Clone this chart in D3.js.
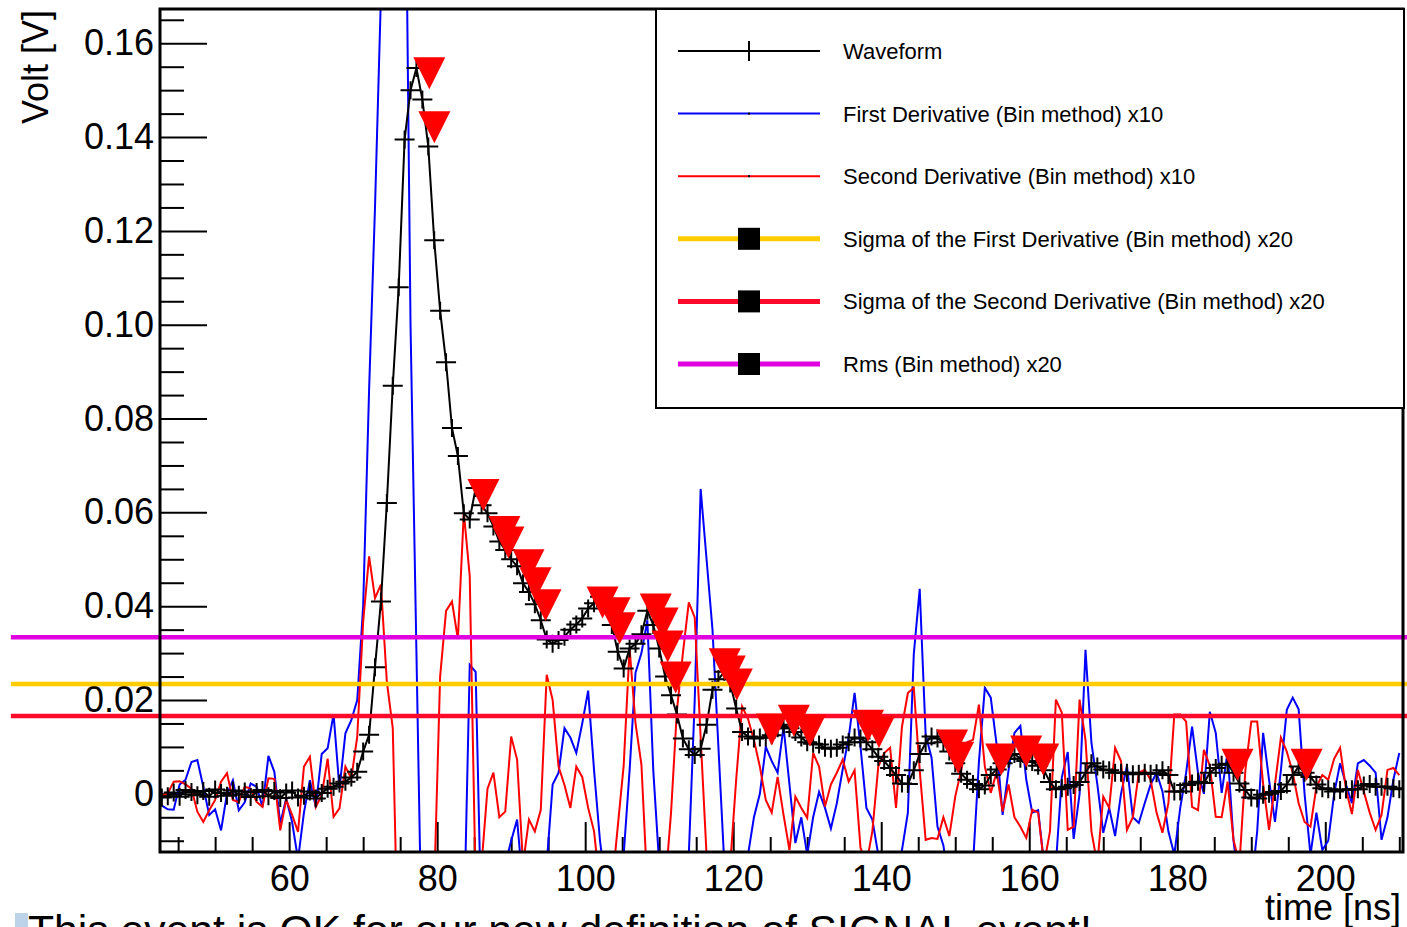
<!DOCTYPE html>
<html>
<head>
<meta charset="utf-8">
<script src="https://cdn.jsdelivr.net/npm/d3@7"></script>
<style>
  body { margin: 0; background: #fff; }
  svg { display: block; }
  text { font-family: "Liberation Sans", Arial, Helvetica, sans-serif; fill: #000; }
</style>
</head>
<body>
<svg id="chart" width="1407" height="927"></svg>
<script>
// sampling of the digitizer: bin centres every 0.8 ns
const T0 = 42.8;
const DT = 0.8;

// waveform [V]
const waveform = [
  -0.0008, -0.0005, 0.0003, -0.0006, 0.0008, 0.0004, -0.0003, 0.0006, -0.0006, 0.0009,
  0.0002, -0.0004, 0.0007, -0.0002, 0.0005, -0.0007, 0.0004, 0.0008, -0.0005, 0.0006,
  -0.0009, 0.0003, 0.0007, -0.0008, -0.0004, 0.0005, -0.0010, 0.0002, 0.0011, 0.0015,
  0.0022, 0.0026, 0.0035, 0.0047, 0.0090, 0.0126, 0.0270, 0.0410, 0.0620, 0.0870,
  0.1080, 0.1395, 0.1500, 0.1547, 0.1480, 0.1380, 0.1180, 0.1030, 0.0920, 0.0780,
  0.0720, 0.0598, 0.0585, 0.0652, 0.0615, 0.0598, 0.0570, 0.0538, 0.0520, 0.0500,
  0.0485, 0.0449, 0.0430, 0.0404, 0.0370, 0.0329, 0.0320, 0.0328, 0.0335, 0.0350,
  0.0361, 0.0374, 0.0395, 0.0406, 0.0420, 0.0400, 0.0360, 0.0303, 0.0267, 0.0310,
  0.0320, 0.0340, 0.0390, 0.0360, 0.0310, 0.0250, 0.0210, 0.0169, 0.0118, 0.0095,
  0.0083, 0.0096, 0.0147, 0.0222, 0.0244, 0.0260, 0.0235, 0.0182, 0.0132, 0.0122,
  0.0118, 0.0120, 0.0120, 0.0125, 0.0140, 0.0147, 0.0140, 0.0132, 0.0120, 0.0110,
  0.0107, 0.0105, 0.0098, 0.0096, 0.0098, 0.0105, 0.0110, 0.0120, 0.0118, 0.0110,
  0.0095, 0.0079, 0.0070, 0.0055, 0.0040, 0.0022, 0.0021, 0.0050, 0.0085, 0.0108,
  0.0122, 0.0118, 0.0110, 0.0090, 0.0065, 0.0043, 0.0030, 0.0021, 0.0010, 0.0018,
  0.0040, 0.0052, 0.0065, 0.0075, 0.0085, 0.0075, 0.0070, 0.0068, 0.0060, 0.0050,
  0.0025, 0.0010, 0.0012, 0.0015, 0.0019, 0.0025, 0.0045, 0.0065, 0.0058, 0.0052,
  0.0050, 0.0045, 0.0045, 0.0045, 0.0042, 0.0043, 0.0045, 0.0043, 0.0044, 0.0050,
  0.0040, 0.0005, 0.0005, 0.0019, 0.0022, 0.0026, 0.0023, 0.0045, 0.0055, 0.0062,
  0.0064, 0.0045, 0.0022, 0.0008, -0.0008, -0.0010, -0.0002, 0.0000, 0.0004, 0.0006,
  0.0020, 0.0040, 0.0058, 0.0045, 0.0036, 0.0020, 0.0012, 0.0010, 0.0005, 0.0008,
  0.0009, 0.0010, 0.0010, 0.0018, 0.0021, 0.0015, 0.0015, 0.0015, 0.0012, 0.0010
];

// first derivative x10
const firstDeriv = [
  -0.0025, -0.0033, -0.0034, 0.0020, 0.0030, 0.0068, 0.0072, 0.0015, -0.0045, -0.0033,
  -0.0078, 0.0000, 0.0029, -0.0035, -0.0018, 0.0022, 0.0015, -0.0028, 0.0081, 0.0047,
  -0.0063, -0.0010, -0.0060, -0.0140, -0.0040, 0.0029, -0.0028, 0.0085, 0.0097, 0.0170,
  0.0011, 0.0129, 0.0157, 0.0200, 0.0400, 0.0860, 0.1250, 0.1700, 0.2200, 0.2600,
  0.3000, 0.2200, 0.1000, 0.0300, -0.0400, -0.1000, -0.1000, -0.1000, -0.0800, -0.0600,
  -0.0400, -0.0300, 0.0275, 0.0260, -0.0300, -0.0200, -0.0150, -0.0200, -0.0150, -0.0100,
  -0.0055, -0.0200, -0.0300, -0.0250, -0.0200, -0.0150, 0.0020, 0.0045, 0.0140, 0.0120,
  0.0087, 0.0150, 0.0220, 0.0050, -0.0100, -0.0200, -0.0300, -0.0250, -0.0130, 0.0050,
  0.0258, 0.0300, 0.0370, 0.0050, -0.0150, -0.0300, -0.0300, -0.0250, -0.0200, -0.0130,
  0.0200, 0.0650, 0.0500, 0.0350, 0.0100, -0.0150, -0.0200, -0.0200, -0.0150, -0.0130,
  -0.0050, 0.0000, 0.0100, 0.0070, 0.0045, 0.0143, 0.0020, -0.0105, -0.0050, -0.0130,
  -0.0050, 0.0004, -0.0030, -0.0074, -0.0020, 0.0053, 0.0120, 0.0215, 0.0100, -0.0030,
  -0.0055, -0.0130, -0.0200, -0.0200, -0.0150, -0.0120, -0.0040, 0.0298, 0.0437, 0.0126,
  0.0077, -0.0070, -0.0110, -0.0200, -0.0300, -0.0300, -0.0250, -0.0150, 0.0068, 0.0226,
  0.0205, 0.0104, -0.0045, 0.0050, 0.0130, 0.0145, 0.0030, -0.0040, -0.0035, -0.0150,
  -0.0200, -0.0150, 0.0035, 0.0089, -0.0096, 0.0000, 0.0307, 0.0109, 0.0020, -0.0083,
  -0.0030, -0.0090, 0.0000, 0.0060, -0.0050, -0.0062, -0.0020, 0.0020, 0.0045, 0.0005,
  -0.0080, -0.0130, -0.0030, 0.0045, 0.0143, 0.0045, 0.0000, 0.0175, 0.0130, 0.0002,
  0.0089, -0.0100, -0.0200, -0.0300, -0.0200, -0.0080, 0.0130, 0.0030, -0.0060, 0.0050,
  0.0179, 0.0205, 0.0180, 0.0000, -0.0130, -0.0040, -0.0120, -0.0100, 0.0000, 0.0065,
  0.0020, -0.0020, 0.0065, 0.0072, 0.0060, 0.0045, -0.0098, -0.0050, 0.0030, 0.0087
];

// second derivative x10
const secondDeriv = [
  -0.0004, 0.0001, 0.0026, 0.0027, 0.0020, 0.0011, -0.0038, -0.0060, -0.0035, -0.0013,
  0.0026, 0.0044, -0.0013, -0.0018, 0.0015, 0.0011, -0.0017, -0.0028, 0.0033, 0.0032,
  -0.0078, -0.0013, -0.0045, -0.0081, 0.0058, 0.0079, -0.0028, -0.0003, 0.0075, -0.0049,
  -0.0031, 0.0058, 0.0033, 0.0122, 0.0367, 0.0506, 0.0417, 0.0446, 0.0239, 0.0140,
  -0.0400, -0.0800, -0.1000, -0.1000, -0.0800, -0.0500, -0.0200, 0.0250, 0.0390, 0.0410,
  0.0330, 0.0600, 0.0464, -0.0200, -0.0150, 0.0011, 0.0045, -0.0050, -0.0038, 0.0122,
  0.0073, -0.0150, -0.0055, -0.0080, -0.0034, 0.0254, 0.0200, 0.0058, 0.0019, -0.0030,
  0.0058, 0.0036, -0.0030, -0.0080, -0.0200, -0.0300, -0.0200, -0.0070, 0.0060, 0.0310,
  0.0150, 0.0062, -0.0200, -0.0300, -0.0300, -0.0200, -0.0040, 0.0179, 0.0300, 0.0408,
  0.0376, 0.0120, -0.0130, -0.0300, -0.0300, -0.0250, -0.0150, 0.0030, 0.0186, 0.0160,
  0.0115, 0.0058, -0.0013, -0.0040, 0.0036, -0.0045, -0.0120, -0.0006, -0.0030, -0.0051,
  0.0087, 0.0058, -0.0027, 0.0020, 0.0045, 0.0073, 0.0026, 0.0050, -0.0115, -0.0150,
  -0.0080, 0.0058, 0.0087, 0.0098, -0.0030, 0.0143, 0.0215, 0.0226, 0.0050, -0.0098,
  -0.0094, -0.0096, -0.0050, -0.0090, -0.0006, 0.0050, 0.0110, 0.0115, 0.0190, 0.0058,
  0.0002, 0.0047, -0.0038, 0.0020, -0.0050, -0.0070, -0.0094, -0.0034, -0.0040, -0.0150,
  -0.0080, 0.0201, 0.0173, -0.0077, -0.0070, 0.0201, 0.0115, -0.0080, -0.0150, -0.0006,
  -0.0030, 0.0098, 0.0070, -0.0077, -0.0050, 0.0045, 0.0051, 0.0030, -0.0040, -0.0083,
  -0.0020, 0.0169, 0.0169, 0.0154, -0.0028, -0.0035, 0.0094, 0.0060, -0.0049, -0.0050,
  0.0026, -0.0098, -0.0150, 0.0050, 0.0154, 0.0154, 0.0021, -0.0077, 0.0020, 0.0120,
  0.0090, 0.0045, -0.0020, -0.0060, -0.0070, 0.0015, 0.0040, 0.0030, 0.0075, 0.0098,
  0.0010, -0.0043, 0.0051, 0.0005, -0.0040, -0.0077, -0.0045, 0.0051, 0.0055, 0.0040
];

// selected points (red triangles)
const peakTimes = [78.94, 79.62, 86.25, 89.09, 89.63, 92.34, 93.29, 94.64, 102.35, 103.98,
  104.65, 109.53, 110.47, 111.15, 112.23, 118.86, 119.54, 120.49, 125.22, 128.2,
  130.37, 138.21, 139.70, 149.58, 150.39, 156.21, 159.59, 161.89, 188.14, 197.48];
const peakVolts = [0.1536, 0.1421, 0.0637, 0.0558, 0.0536, 0.0487, 0.0449, 0.0402, 0.0408, 0.0385,
  0.0353, 0.0393, 0.0363, 0.0314, 0.0248, 0.0276, 0.0261, 0.0233, 0.0137, 0.0156,
  0.0135, 0.0145, 0.0132, 0.0103, 0.0077, 0.0073, 0.0090, 0.0073, 0.0062, 0.0062];

// threshold lines
const thresholdNames = ["sigma1", "sigma2", "rms"];
const thresholdValues = [0.0234, 0.0166, 0.0334];
const thresholdColors = ["#ffcc00", "#ff0a2a", "#e000e0"];

const xMajor = [60, 80, 100, 120, 140, 160, 180, 200];
const yMajor = [0, 0.02, 0.04, 0.06, 0.08, 0.10, 0.12, 0.14, 0.16];

const legendLabels = [
  "Waveform",
  "First Derivative (Bin method) x10",
  "Second Derivative (Bin method) x10",
  "Sigma of the First Derivative (Bin method) x20",
  "Sigma of the Second Derivative (Bin method) x20",
  "Rms (Bin method) x20"
];

const svg = d3.select("#chart");
const frame = {left: 160, right: 1403, top: 9, bottom: 852};

const x = d3.scaleLinear().domain([42.55, 210.5]).range([frame.left, frame.right]);
const y = d3.scaleLinear().domain([-0.0124, 0.1673]).range([frame.bottom, frame.top]);

const tOf = (d, i) => T0 + i * DT;

svg.append("defs").append("clipPath").attr("id", "frameClip")
  .append("rect")
  .attr("x", frame.left).attr("y", frame.top)
  .attr("width", frame.right - frame.left).attr("height", frame.bottom - frame.top);

// axes, ROOT style ticks pointing inward
var xMinor = d3.range(45, 211, 5).filter(v => xMajor.indexOf(v) < 0);
var yMinor = d3.range(-10, 166, 5).map(v => v / 1000).filter(v => yMajor.every(m => Math.abs(m - v) > 1e-6));

svg.append("g")
  .attr("transform", `translate(0,${frame.bottom})`)
  .call(d3.axisBottom(x).tickValues(xMinor).tickSize(-15).tickFormat(""))
  .call(g => g.select(".domain").remove());
svg.append("g")
  .attr("transform", `translate(0,${frame.bottom})`)
  .call(d3.axisBottom(x).tickValues(xMajor).tickSize(-30).tickPadding(13).tickFormat(d3.format("d")))
  .call(g => g.select(".domain").remove())
  .call(g => g.selectAll("text").attr("font-size", 36).attr("font-family", null));

svg.append("g")
  .attr("transform", `translate(${frame.left},0)`)
  .call(d3.axisLeft(y).tickValues(yMinor).tickSize(-24).tickFormat(""))
  .call(g => g.select(".domain").remove());
svg.append("g")
  .attr("transform", `translate(${frame.left},0)`)
  .call(d3.axisLeft(y).tickValues(yMajor).tickSize(-47).tickPadding(6)
    .tickFormat(v => v === 0 ? "0" : v.toFixed(2)))
  .call(g => g.select(".domain").remove())
  .call(g => g.selectAll("text").attr("font-size", 36).attr("font-family", null));

svg.selectAll(".tick line").attr("stroke", "#000").attr("stroke-width", 2);

// curves
const plot = svg.append("g").attr("clip-path", "url(#frameClip)");
const line = d3.line().x((d, i) => x(tOf(d, i))).y(d => y(d));

plot.append("path").datum(firstDeriv)
  .attr("d", line).attr("fill", "none").attr("stroke", "#0000ff").attr("stroke-width", 2);
plot.append("path").datum(secondDeriv)
  .attr("d", line).attr("fill", "none").attr("stroke", "#ff0000").attr("stroke-width", 2);

// thresholds run past the frame edges
svg.append("g").selectAll("line")
  .data(thresholdValues)
  .join("line")
  .attr("x1", x(22.4)).attr("x2", x(212))
  .attr("y1", d => y(d)).attr("y2", d => y(d))
  .attr("stroke", (d, i) => thresholdColors[i])
  .attr("stroke-width", 4.5);

plot.append("path").datum(waveform)
  .attr("d", line).attr("fill", "none").attr("stroke", "#000").attr("stroke-width", 2);

plot.append("g").selectAll("path")
  .data(waveform)
  .join("path")
  .attr("transform", (d, i) => `translate(${x(tOf(d, i))},${y(d)})`)
  .attr("d", "M-10,0H10M0,-9V9")
  .attr("stroke", "#000").attr("stroke-width", 2);

svg.append("g").selectAll("path")
  .data(peakTimes)
  .join("path")
  .attr("transform", (d, i) => `translate(${x(d)},${y(peakVolts[i])})`)
  .attr("d", "M-16,-16L16,-16L0,16Z")
  .attr("fill", "#ff0000");

// frame
svg.append("rect")
  .attr("x", frame.left).attr("y", frame.top)
  .attr("width", frame.right - frame.left).attr("height", frame.bottom - frame.top)
  .attr("fill", "none").attr("stroke", "#000").attr("stroke-width", 3);

// axis titles
svg.append("text")
  .attr("transform", "translate(48,10) rotate(-90)")
  .attr("text-anchor", "end")
  .attr("font-size", 36)
  .text("Volt [V]");
svg.append("text")
  .attr("x", 1401).attr("y", 920)
  .attr("text-anchor", "end")
  .attr("font-size", 36)
  .text("time [ns]");

// legend
const leg = svg.append("g");
leg.append("rect")
  .attr("x", 656).attr("y", 9).attr("width", 748).attr("height", 399)
  .attr("fill", "#fff").attr("stroke", "#000").attr("stroke-width", 2);

const rowY = i => 51 + i * 62.6;
const legStroke = ["#000", "#0000ff", "#ff0000"].concat(thresholdColors);
const legWidth = [2, 2, 2, 5, 5, 5];

const rows = leg.selectAll("g.row").data(legendLabels).join("g")
  .attr("class", "row")
  .attr("transform", (d, i) => `translate(0,${rowY(i)})`);
rows.append("line")
  .attr("x1", 678).attr("x2", 820).attr("y1", 0).attr("y2", 0)
  .attr("stroke", (d, i) => legStroke[i])
  .attr("stroke-width", (d, i) => legWidth[i]);
rows.filter((d, i) => i === 0).append("path")
  .attr("d", "M749,-10V10").attr("stroke", "#000").attr("stroke-width", 2);
rows.filter((d, i) => i === 1 || i === 2).append("rect")
  .attr("x", 748).attr("y", -1).attr("width", 2).attr("height", 2).attr("fill", "#000");
rows.filter((d, i) => i >= 3).append("rect")
  .attr("x", 738).attr("y", -11).attr("width", 22).attr("height", 22).attr("fill", "#000");
rows.append("text")
  .attr("x", 843).attr("y", 0).attr("dy", "0.36em")
  .attr("font-size", 22)
  .text(d => d);

// caption cut by the bottom edge
svg.append("rect").attr("x", 15).attr("y", 913).attr("width", 13).attr("height", 14).attr("fill", "#bcd3ea");
svg.append("text")
  .attr("x", 28).attr("y", 945)
  .attr("font-size", 42.7)
  .text("This event is OK for our new definition of SIGNAL event!");
</script>
</body>
</html>
